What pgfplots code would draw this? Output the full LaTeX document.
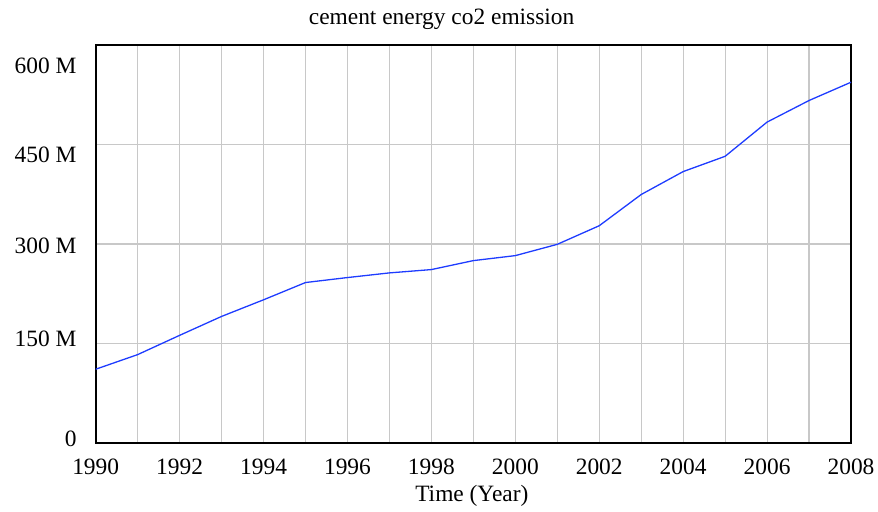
\documentclass[border=0pt]{standalone}
\usepackage{pgfplots}
\pgfplotsset{compat=1.18}
\usepackage{fontspec}
\setmainfont{Liberation Serif}
\definecolor{lineblue}{RGB}{30,60,255}
\definecolor{gridgray}{RGB}{200,200,200}
\begin{document}
\begin{tikzpicture}
\path[use as bounding box] (-95.7bp,-68.7bp) rectangle (782.3bp,443.3bp);
\begin{axis}[
  scale only axis,
  width=755.3bp, height=398.6bp,
  xmin=1990, xmax=2008, ymin=0, ymax=600,
  font=\fontsize{23.5}{27}\selectfont,
  axis line style={line width=2.2bp, black},
  xtick={1990,1992,...,2008},
  xticklabels={1990,1992,1994,1996,1998,2000,2002,2004,2006,2008},
  minor xtick={1991,1993,...,2007},
  ytick={0,150,300,450,600},
  yticklabels={\raisebox{-3.5bp}[0pt][0pt]{0},\raisebox{-2.7bp}[0pt][0pt]{150 M},\raisebox{-10bp}[0pt][0pt]{300 M},\raisebox{-17.7bp}[0pt][0pt]{450 M},\raisebox{-28.6bp}[0pt][0pt]{600 M}},
  major tick length=0pt, minor tick length=0pt,
  grid=both,
  major grid style={gridgray, line width=1.1bp},
  minor grid style={gridgray, line width=1.1bp},
  xticklabel style={anchor=north, inner sep=0pt, yshift=-15bp},
  yticklabel style={anchor=east, inner sep=0pt, xshift=-19bp},
  title={cement energy co2 emission},
  title style={at={(axis description cs:0.458,1)}, anchor=base, inner sep=0pt, yshift=14bp},
  xlabel={Time (Year)},
  xlabel style={at={(axis description cs:0.498,0)}, anchor=north, inner sep=0pt, yshift=-41.7bp},
]
\addplot[lineblue, line width=1.3bp, mark=none] coordinates {
(1990,111.5) (1991,133.5) (1992,162.5) (1993,191) (1994,216) (1995,242)
(1996,249.5) (1997,256.5) (1998,261.5) (1999,275) (2000,282.5) (2001,299.5)
(2002,327.5) (2003,374.5) (2004,409) (2005,432) (2006,483.5) (2007,516) (2008,543.5)
};
\end{axis}
\end{tikzpicture}
\end{document}
